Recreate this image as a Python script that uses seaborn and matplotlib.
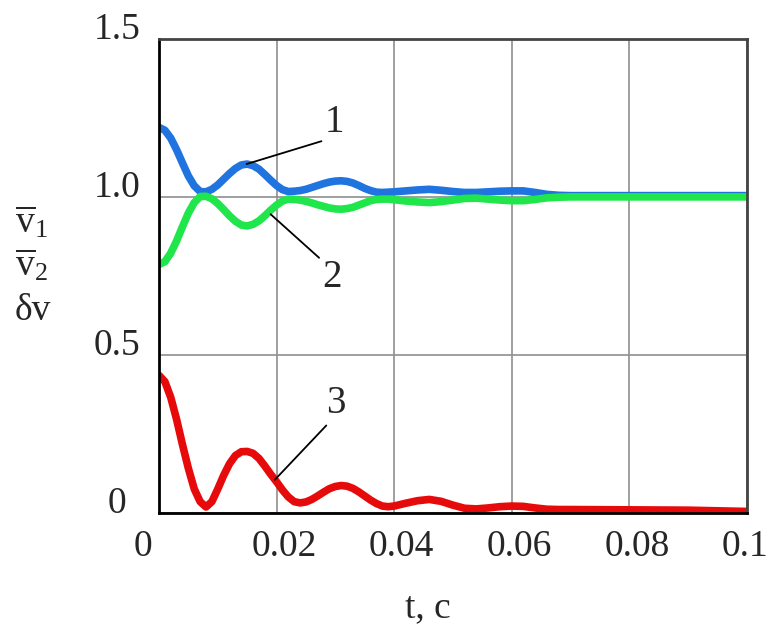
import numpy as np
import matplotlib
matplotlib.use("Agg")
import matplotlib.pyplot as plt
import matplotlib.transforms as mtransforms
import seaborn as sns

# --- Dane ---
t = [0.000, 0.001, 0.002, 0.003, 0.004, 0.005, 0.006, 0.007, 0.008, 0.009,
     0.010, 0.011, 0.012, 0.013, 0.014, 0.015, 0.016, 0.017, 0.018, 0.019,
     0.020, 0.021, 0.022, 0.023, 0.024, 0.025, 0.026, 0.027, 0.028, 0.029,
     0.030, 0.031, 0.032, 0.033, 0.034, 0.035, 0.036, 0.037, 0.038, 0.039,
     0.040, 0.042, 0.044, 0.046, 0.048, 0.050, 0.052, 0.054, 0.056, 0.058,
     0.060, 0.062, 0.064, 0.066, 0.068, 0.070, 0.080, 0.090, 0.100]

v1 = [1.220, 1.211, 1.186, 1.149, 1.107, 1.066, 1.035, 1.017, 1.016, 1.024,
      1.038, 1.056, 1.074, 1.090, 1.101, 1.104, 1.099, 1.088, 1.071, 1.053,
      1.036, 1.023, 1.017, 1.018, 1.020, 1.024, 1.030, 1.036, 1.042, 1.047,
      1.050, 1.051, 1.049, 1.044, 1.036, 1.027, 1.020, 1.015, 1.014, 1.015,
      1.016, 1.019, 1.022, 1.024, 1.021, 1.017, 1.014, 1.014, 1.016, 1.018,
      1.019, 1.019, 1.014, 1.008, 1.005, 1.004, 1.004, 1.004, 1.004]

v2 = [0.786, 0.795, 0.822, 0.861, 0.906, 0.949, 0.982, 1.001, 1.002, 0.994,
      0.979, 0.960, 0.940, 0.923, 0.911, 0.908, 0.913, 0.924, 0.940, 0.958,
      0.974, 0.987, 0.993, 0.992, 0.990, 0.986, 0.981, 0.975, 0.970, 0.965,
      0.962, 0.961, 0.963, 0.967, 0.974, 0.981, 0.988, 0.992, 0.993, 0.993,
      0.991, 0.987, 0.984, 0.982, 0.985, 0.990, 0.995, 0.996, 0.993, 0.990,
      0.988, 0.988, 0.992, 0.997, 0.999, 1.000, 1.000, 1.000, 1.000]

dv = [0.435, 0.415, 0.365, 0.295, 0.215, 0.140, 0.075, 0.035, 0.018, 0.035,
      0.075, 0.118, 0.155, 0.181, 0.193, 0.194, 0.188, 0.172, 0.148, 0.122,
      0.098, 0.072, 0.050, 0.035, 0.031, 0.034, 0.042, 0.053, 0.065, 0.076,
      0.083, 0.086, 0.084, 0.077, 0.066, 0.053, 0.040, 0.029, 0.021, 0.019,
      0.021, 0.030, 0.038, 0.042, 0.036, 0.024, 0.014, 0.012, 0.015, 0.019,
      0.021, 0.020, 0.015, 0.011, 0.010, 0.010, 0.009, 0.008, 0.004]

x_ticks = [0, 0.02, 0.04, 0.06, 0.08, 0.1]
x_labels = ["0", "0.02", "0.04", "0.06", "0.08", "0.1"]
y_ticks = [0, 0.5, 1.0, 1.5]
y_labels = ["0", "0.5", "1.0", "1.5"]

# --- Styl ---
sns.set_style("white")
plt.rcParams["font.family"] = ["Liberation Serif", "DejaVu Serif"]
plt.rcParams["mathtext.fontset"] = "custom"
plt.rcParams["mathtext.rm"] = "Liberation Serif"
plt.rcParams["mathtext.it"] = "Liberation Serif"

fig = plt.figure(figsize=(7.76, 6.3), dpi=100)
ax = fig.add_axes([0.2049, 0.1862, 0.7573, 0.7519])

# --- Krzywe ---
sns.lineplot(x=t, y=dv, color="#e60a0a", lw=5.5, ax=ax)
sns.lineplot(x=t, y=v1, color="#1f74e0", lw=5.5, ax=ax)
sns.lineplot(x=t, y=v2, color="#1ee64b", lw=5.5, ax=ax)

ax.set_xlim(0, 0.1)
ax.set_ylim(0, 1.5)
ax.set_xticks(x_ticks)
ax.set_xticklabels(x_labels)
ax.set_yticks(y_ticks)
ax.set_yticklabels(y_labels)
ax.grid(True, color="#8f8f8f", lw=1.2)
ax.set_axisbelow(True)
ax.tick_params(length=0, labelsize=27)
ax.tick_params(axis="x", pad=12)
ax.tick_params(axis="y", pad=30)

for lab in ax.get_yticklabels():
    lab.set_ha("center")
    lab.set_va("baseline")
off = mtransforms.ScaledTranslation(-0.25, 0, fig.dpi_scale_trans)
for lab in ax.get_xticklabels():
    lab.set_ha("left")
    lab.set_transform(lab.get_transform() + off)

for side in ["left", "bottom"]:
    ax.spines[side].set_color("black")
    ax.spines[side].set_linewidth(2)
for side in ["top", "right"]:
    ax.spines[side].set_color("#444444")
    ax.spines[side].set_linewidth(2)

# --- Opisy krzywych ---
lead = dict(arrowstyle="-", color="black", lw=1.3, shrinkA=0, shrinkB=0)
ax.annotate("1", xy=(0.0149, 1.104), xytext=(0.0282, 1.205), fontsize=28,
            arrowprops=dict(lead, relpos=(0.15, 0.05)))
ax.annotate("2", xy=(0.0190, 0.945), xytext=(0.0278, 0.715), fontsize=28,
            arrowprops=dict(lead, relpos=(0.0, 0.95)))
ax.annotate("3", xy=(0.0197, 0.104), xytext=(0.0285, 0.315), fontsize=28,
            arrowprops=dict(lead, relpos=(0.15, 0.0)))

# --- Opisy osi ---
fig.text(428 / 776, 1 - 608 / 630, "t, c", fontsize=27, ha="center", va="center")
fig.text(15 / 776, 1 - 233 / 630, r"$\overline{\mathrm{v}}_{1}$", fontsize=27, ha="left", va="baseline")
fig.text(15 / 776, 1 - 276 / 630, r"$\overline{\mathrm{v}}_{2}$", fontsize=27, ha="left", va="baseline")
fig.text(15 / 776, 1 - 320 / 630, "δv", fontsize=27, ha="left", va="baseline")

plt.savefig("out.png", dpi=100)
